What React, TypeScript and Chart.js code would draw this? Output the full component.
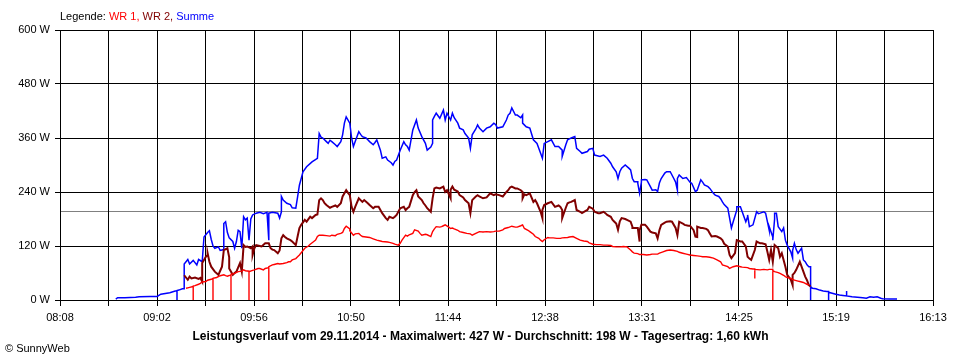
import React, { useEffect, useRef } from "react";
import { Chart, registerables } from "chart.js";

Chart.register(...registerables);

// X axis labels (every second grid line carries a label)
const xTickLabels = ["08:08", "09:02", "09:56", "10:50", "11:44", "12:38", "13:31", "14:25", "15:19", "16:13"];
const gridLinesPerLabel = 2;
const yMax = 600;
const yStep = 120;
const averageWatt = 198;

const legendPrefix = "Legende:";
const seriesNames = ["WR 1", "WR 2", "Summe"];
const seriesColors = ["#ff0000", "#800000", "#0000ff"];
const chartTitle = "Leistungsverlauf vom 29.11.2014 - Maximalwert: 427 W - Durchschnitt: 198 W - Tagesertrag: 1,60 kWh";
const copyright = "\u00a9 SunnyWeb";

// [time, watt]
const wr1Readings: [string, number][] = [
  ["09:18", 26], ["09:19", 27], ["09:20", 28], ["09:22", 30], ["09:22", 0], ["09:22", 31], ["09:23", 32], ["09:25", 35],
  ["09:26", 37], ["09:27", 40], ["09:29", 41], ["09:30", 44], ["09:32", 46], ["09:33", 48], ["09:33", 0], ["09:33", 48],
  ["09:35", 50], ["09:37", 54], ["09:39", 56], ["09:40", 54], ["09:41", 53], ["09:43", 56], ["09:43", 0], ["09:43", 57],
  ["09:45", 59], ["09:47", 63], ["09:49", 64], ["09:50", 67], ["09:51", 65], ["09:53", 64], ["09:53", 0], ["09:53", 63],
  ["09:55", 66], ["09:56", 67], ["09:58", 70], ["09:59", 70], ["10:01", 67], ["10:02", 70], ["10:04", 72], ["10:04", 0],
  ["10:04", 74], ["10:06", 78], ["10:07", 79], ["10:09", 81], ["10:10", 80], ["10:12", 81], ["10:14", 83], ["10:15", 85],
  ["10:16", 85], ["10:17", 89], ["10:19", 92], ["10:20", 96], ["10:21", 100], ["10:23", 110], ["10:24", 115], ["10:26", 120],
  ["10:27", 124], ["10:29", 130], ["10:30", 133], ["10:31", 141], ["10:32", 144], ["10:34", 144], ["10:36", 143], ["10:38", 142],
  ["10:39", 144], ["10:41", 143], ["10:42", 146], ["10:44", 148], ["10:45", 150], ["10:46", 159], ["10:47", 164], ["10:49", 158],
  ["10:49", 154], ["10:51", 144], ["10:52", 147], ["10:54", 148], ["10:55", 144], ["10:56", 141], ["10:58", 140], ["11:00", 139],
  ["11:02", 136], ["11:04", 133], ["11:06", 131], ["11:07", 130], ["11:10", 129], ["11:11", 128], ["11:13", 126], ["11:14", 124],
  ["11:16", 122], ["11:17", 126], ["11:18", 133], ["11:20", 144], ["11:21", 142], ["11:22", 145], ["11:24", 148], ["11:25", 156],
  ["11:27", 153], ["11:28", 148], ["11:29", 144], ["11:31", 146], ["11:32", 145], ["11:34", 141], ["11:35", 152], ["11:36", 158],
  ["11:37", 163], ["11:39", 162], ["11:40", 163], ["11:41", 165], ["11:42", 167], ["11:44", 162], ["11:45", 159], ["11:46", 160],
  ["11:47", 158], ["11:49", 155], ["11:50", 152], ["11:52", 150], ["11:54", 148], ["11:56", 147], ["11:57", 144], ["11:59", 148],
  ["12:01", 152], ["12:03", 151], ["12:05", 152], ["12:07", 151], ["12:09", 152], ["12:10", 153], ["12:12", 153], ["12:14", 156],
  ["12:15", 159], ["12:17", 161], ["12:19", 164], ["12:21", 162], ["12:22", 162], ["12:24", 165], ["12:25", 167], ["12:26", 159],
  ["12:28", 155], ["12:29", 152], ["12:31", 146], ["12:32", 141], ["12:34", 137], ["12:35", 133], ["12:36", 130], ["12:37", 134],
  ["12:39", 139], ["12:40", 138], ["12:42", 138], ["12:44", 137], ["12:46", 137], ["12:47", 138], ["12:50", 139], ["12:51", 140],
  ["12:53", 141], ["12:55", 137], ["12:57", 133], ["12:59", 131], ["13:01", 130], ["13:02", 127], ["13:04", 124], ["13:06", 123],
  ["13:08", 123], ["13:10", 122], ["13:12", 122], ["13:14", 121], ["13:15", 119], ["13:17", 118], ["13:19", 118], ["13:21", 119],
  ["13:23", 118], ["13:25", 111], ["13:26", 107], ["13:27", 104], ["13:29", 103], ["13:30", 101], ["13:32", 101], ["13:34", 100],
  ["13:36", 101], ["13:37", 102], ["13:40", 102], ["13:41", 104], ["13:43", 107], ["13:45", 110], ["13:47", 111], ["13:49", 110],
  ["13:51", 108], ["13:52", 106], ["13:54", 104], ["13:56", 102], ["13:58", 100], ["14:00", 99], ["14:02", 98], ["14:04", 97],
  ["14:05", 96], ["14:07", 96], ["14:09", 95], ["14:11", 93], ["14:13", 89], ["14:15", 85], ["14:16", 78], ["14:19", 74],
  ["14:20", 70], ["14:22", 74], ["14:24", 76], ["14:26", 74], ["14:27", 73], ["14:30", 72], ["14:31", 70], ["14:33", 69],
  ["14:34", 69], ["14:34", 48], ["14:34", 68], ["14:37", 67], ["14:39", 68], ["14:41", 67], ["14:42", 68], ["14:44", 68],
  ["14:44", 0], ["14:44", 65], ["14:45", 63], ["14:47", 61], ["14:48", 59], ["14:50", 55], ["14:51", 52], ["14:52", 50],
  ["14:54", 48], ["14:55", 46], ["14:56", 44], ["14:58", 42], ["14:59", 41], ["15:01", 39], ["15:02", 37], ["15:03", 35],
  ["15:04", 33],
];

const wr2Readings: [string, number][] = [
  ["09:17", 55], ["09:19", 45], ["09:20", 52], ["09:21", 48], ["09:23", 50], ["09:25", 47], ["09:26", 49], ["09:27", 41],
  ["09:27", 82], ["09:29", 96], ["09:30", 100], ["09:30", 104], ["09:31", 85], ["09:32", 74], ["09:34", 63], ["09:36", 56],
  ["09:37", 65], ["09:38", 74], ["09:39", 111], ["09:41", 115], ["09:42", 95], ["09:42", 70], ["09:44", 56], ["09:45", 60],
  ["09:46", 63], ["09:48", 82], ["09:49", 63], ["09:50", 122], ["09:51", 118], ["09:52", 119], ["09:54", 115], ["09:55", 119],
  ["09:55", 100], ["09:56", 115], ["09:57", 122], ["09:59", 120], ["10:00", 119], ["10:02", 126], ["10:04", 126], ["10:05", 115],
  ["10:06", 112], ["10:07", 111], ["10:09", 104], ["10:10", 110], ["10:11", 137], ["10:12", 144], ["10:13", 140], ["10:14", 137],
  ["10:16", 133], ["10:17", 130], ["10:19", 122], ["10:20", 141], ["10:21", 160], ["10:22", 167], ["10:24", 178], ["10:25", 174],
  ["10:27", 185], ["10:28", 182], ["10:30", 189], ["10:31", 190], ["10:32", 222], ["10:33", 226], ["10:34", 222], ["10:35", 215],
  ["10:36", 211], ["10:38", 205], ["10:39", 207], ["10:41", 210], ["10:42", 207], ["10:44", 215], ["10:45", 230], ["10:47", 244],
  ["10:48", 238], ["10:49", 233], ["10:50", 207], ["10:51", 196], ["10:52", 207], ["10:54", 226], ["10:55", 222], ["10:56", 218],
  ["10:57", 222], ["10:59", 215], ["11:00", 211], ["11:02", 204], ["11:03", 207], ["11:05", 207], ["11:06", 200], ["11:07", 193],
  ["11:09", 182], ["11:10", 178], ["11:11", 185], ["11:13", 182], ["11:14", 185], ["11:15", 189], ["11:17", 204], ["11:19", 207],
  ["11:20", 200], ["11:21", 204], ["11:22", 207], ["11:24", 233], ["11:25", 240], ["11:26", 244], ["11:27", 230], ["11:29", 222],
  ["11:30", 215], ["11:31", 210], ["11:32", 204], ["11:34", 196], ["11:35", 226], ["11:36", 248], ["11:37", 250], ["11:39", 248],
  ["11:41", 252], ["11:42", 240], ["11:43", 244], ["11:45", 226], ["11:45", 245], ["11:46", 252], ["11:47", 245], ["11:49", 241],
  ["11:50", 233], ["11:52", 228], ["11:53", 222], ["11:55", 215], ["11:56", 193], ["11:57", 222], ["11:59", 230], ["12:00", 233],
  ["12:01", 230], ["12:03", 226], ["12:05", 228], ["12:07", 237], ["12:09", 233], ["12:10", 235], ["12:12", 233], ["12:14", 230],
  ["12:16", 240], ["12:17", 244], ["12:18", 250], ["12:19", 252], ["12:21", 248], ["12:22", 248], ["12:24", 244], ["12:25", 240],
  ["12:25", 226], ["12:26", 235], ["12:27", 233], ["12:29", 237], ["12:31", 218], ["12:32", 222], ["12:33", 215], ["12:35", 196],
  ["12:36", 182], ["12:36", 200], ["12:37", 211], ["12:39", 215], ["12:41", 218], ["12:43", 207], ["12:45", 210], ["12:46", 207],
  ["12:47", 200], ["12:47", 182], ["12:49", 205], ["12:50", 215], ["12:51", 217], ["12:52", 218], ["12:54", 222], ["12:55", 200],
  ["12:57", 196], ["12:58", 193], ["13:00", 198], ["13:01", 200], ["13:02", 207], ["13:04", 203], ["13:05", 196], ["13:07", 193],
  ["13:08", 193], ["13:10", 196], ["13:11", 193], ["13:12", 189], ["13:14", 185], ["13:15", 178], ["13:16", 174], ["13:17", 170],
  ["13:18", 156], ["13:19", 175], ["13:20", 182], ["13:22", 180], ["13:23", 178], ["13:25", 174], ["13:26", 163], ["13:26", 160],
  ["13:28", 160], ["13:29", 160], ["13:30", 130], ["13:30", 155], ["13:31", 167], ["13:33", 167], ["13:34", 163], ["13:36", 152],
  ["13:37", 150], ["13:39", 148], ["13:40", 137], ["13:41", 155], ["13:42", 167], ["13:44", 172], ["13:45", 174], ["13:47", 175],
  ["13:48", 174], ["13:50", 160], ["13:51", 144], ["13:52", 174], ["13:54", 170], ["13:55", 167], ["13:57", 165], ["13:58", 165],
  ["14:00", 155], ["14:01", 141], ["14:02", 140], ["14:02", 163], ["14:04", 160], ["14:05", 160], ["14:07", 158], ["14:08", 155],
  ["14:09", 148], ["14:10", 141], ["14:12", 142], ["14:13", 141], ["14:15", 137], ["14:16", 133], ["14:17", 125], ["14:19", 119],
  ["14:20", 100], ["14:21", 93], ["14:23", 104], ["14:24", 133], ["14:26", 130], ["14:27", 130], ["14:29", 119], ["14:30", 96],
  ["14:31", 92], ["14:32", 89], ["14:34", 111], ["14:35", 130], ["14:37", 126], ["14:38", 126], ["14:40", 124], ["14:41", 107],
  ["14:42", 89], ["14:43", 111], ["14:44", 85], ["14:45", 122], ["14:47", 115], ["14:48", 96], ["14:49", 104], ["14:51", 74],
  ["14:52", 56], ["14:54", 45], ["14:55", 33], ["14:55", 56], ["14:56", 60], ["14:57", 67], ["14:59", 85], ["15:01", 63],
  ["15:02", 52], ["15:03", 44], ["15:04", 33], ["15:05", 30],
];

const sumReadings: [string, number][] = [
  ["08:39", 2], ["08:40", 5], ["08:44", 5], ["08:50", 6], ["08:52", 7], ["08:58", 8], ["09:02", 8], ["09:04", 13],
  ["09:09", 16], ["09:12", 20], ["09:13", 20], ["09:13", 0], ["09:13", 21], ["09:14", 22], ["09:16", 25], ["09:17", 25],
  ["09:17", 80], ["09:19", 90], ["09:20", 80], ["09:22", 88], ["09:24", 78], ["09:25", 90], ["09:27", 85], ["09:28", 140],
  ["09:30", 150], ["09:31", 154], ["09:32", 135], ["09:33", 120], ["09:34", 115], ["09:36", 118], ["09:37", 110], ["09:39", 112],
  ["09:39", 170], ["09:40", 174], ["09:41", 150], ["09:42", 138], ["09:44", 130], ["09:45", 115], ["09:46", 130], ["09:47", 155],
  ["09:48", 152], ["09:49", 115], ["09:50", 185], ["09:51", 178], ["09:52", 182], ["09:53", 133], ["09:54", 180], ["09:55", 189],
  ["09:57", 193], ["09:59", 195], ["10:01", 192], ["10:03", 195], ["10:04", 133], ["10:04", 193], ["10:06", 195], ["10:09", 193],
  ["10:10", 182], ["10:11", 196], ["10:11", 230], ["10:12", 222], ["10:14", 215], ["10:16", 212], ["10:17", 205], ["10:19", 204],
  ["10:20", 229], ["10:21", 255], ["10:23", 285], ["10:25", 296], ["10:28", 307], ["10:31", 315], ["10:32", 370], ["10:33", 362],
  ["10:34", 360], ["10:36", 352], ["10:37", 348], ["10:38", 355], ["10:39", 352], ["10:41", 345], ["10:42", 341], ["10:44", 352],
  ["10:45", 367], ["10:46", 393], ["10:47", 407], ["10:49", 393], ["10:50", 360], ["10:51", 341], ["10:52", 352], ["10:54", 374],
  ["10:55", 368], ["10:56", 363], ["10:58", 360], ["10:59", 356], ["11:00", 352], ["11:02", 345], ["11:03", 350], ["11:04", 356],
  ["11:06", 333], ["11:07", 315], ["11:09", 318], ["11:10", 311], ["11:12", 305], ["11:13", 300], ["11:14", 308], ["11:15", 311],
  ["11:17", 333], ["11:19", 352], ["11:20", 345], ["11:21", 341], ["11:22", 333], ["11:24", 378], ["11:26", 400], ["11:27", 382],
  ["11:29", 363], ["11:31", 348], ["11:32", 333], ["11:34", 340], ["11:35", 348], ["11:35", 400], ["11:36", 408], ["11:37", 415],
  ["11:39", 404], ["11:41", 422], ["11:42", 400], ["11:43", 415], ["11:45", 400], ["11:46", 415], ["11:47", 405], ["11:49", 393],
  ["11:50", 382], ["11:52", 378], ["11:53", 370], ["11:55", 360], ["11:56", 337], ["11:57", 367], ["11:59", 380], ["12:00", 389],
  ["12:01", 382], ["12:03", 374], ["12:05", 382], ["12:07", 385], ["12:09", 393], ["12:10", 390], ["12:11", 382], ["12:14", 385],
  ["12:16", 400], ["12:17", 411], ["12:18", 415], ["12:19", 427], ["12:21", 411], ["12:22", 411], ["12:24", 405], ["12:25", 411],
  ["12:25", 393], ["12:27", 385], ["12:29", 382], ["12:31", 356], ["12:33", 348], ["12:35", 326], ["12:36", 315], ["12:37", 348],
  ["12:39", 352], ["12:41", 356], ["12:43", 341], ["12:45", 341], ["12:47", 333], ["12:47", 319], ["12:49", 345], ["12:50", 356],
  ["12:51", 358], ["12:52", 360], ["12:54", 363], ["12:55", 337], ["12:57", 330], ["12:58", 326], ["13:01", 330], ["13:02", 335],
  ["13:04", 337], ["13:05", 322], ["13:08", 319], ["13:10", 322], ["13:12", 315], ["13:14", 304], ["13:15", 296], ["13:17", 285],
  ["13:18", 270], ["13:19", 285], ["13:20", 293], ["13:22", 300], ["13:24", 293], ["13:25", 289], ["13:26", 270], ["13:27", 263],
  ["13:29", 263], ["13:29", 259], ["13:30", 237], ["13:31", 262], ["13:31", 267], ["13:33", 268], ["13:34", 267], ["13:36", 252],
  ["13:37", 244], ["13:39", 245], ["13:40", 241], ["13:41", 260], ["13:42", 270], ["13:44", 282], ["13:45", 285], ["13:47", 285],
  ["13:49", 270], ["13:50", 262], ["13:51", 244], ["13:51", 270], ["13:52", 278], ["13:54", 270], ["13:56", 272], ["13:57", 267],
  ["13:58", 262], ["13:59", 259], ["14:01", 241], ["14:02", 244], ["14:04", 267], ["14:05", 262], ["14:06", 256], ["14:08", 252],
  ["14:09", 248], ["14:11", 237], ["14:12", 233], ["14:14", 230], ["14:15", 225], ["14:16", 218], ["14:17", 212], ["14:19", 204],
  ["14:20", 182], ["14:21", 160], ["14:22", 174], ["14:24", 200], ["14:24", 207], ["14:26", 207], ["14:27", 196], ["14:29", 174],
  ["14:30", 185], ["14:30", 189], ["14:31", 163], ["14:33", 167], ["14:35", 196], ["14:36", 192], ["14:37", 193], ["14:39", 196],
  ["14:40", 193], ["14:41", 174], ["14:42", 155], ["14:42", 163], ["14:44", 140], ["14:44", 133], ["14:45", 180], ["14:45", 193],
  ["14:46", 193], ["14:47", 163], ["14:49", 152], ["14:50", 160], ["14:51", 133], ["14:52", 122], ["14:54", 107], ["14:55", 93],
  ["14:55", 110], ["14:56", 126], ["14:57", 112], ["14:58", 104], ["15:00", 115], ["15:01", 89], ["15:02", 85], ["15:03", 78],
  ["15:04", 74], ["15:05", 74], ["15:05", 0], ["15:05", 30], ["15:06", 26], ["15:08", 25], ["15:10", 22], ["15:12", 20],
  ["15:14", 19], ["15:15", 19], ["15:15", 0], ["15:15", 17], ["15:17", 15], ["15:19", 13], ["15:21", 11], ["15:23", 10],
  ["15:25", 9], ["15:25", 20], ["15:25", 9], ["15:28", 7], ["15:31", 6], ["15:34", 5], ["15:36", 4], ["15:38", 7],
  ["15:40", 6], ["15:42", 7], ["15:44", 4], ["15:45", 3], ["15:49", 2], ["15:53", 2],
];

const toMinutes = (t: string) => {
  const [h, m] = t.split(":").map(Number);
  return h * 60 + m;
};

const FONT = '"Liberation Sans", Arial, sans-serif';

export default function App() {
  const canvasRef = useRef<HTMLCanvasElement | null>(null);

  useEffect(() => {
    if (!canvasRef.current) return;
    const xMin = toMinutes(xTickLabels[0]);
    const xMax = toMinutes(xTickLabels[xTickLabels.length - 1]);
    const gridCount = (xTickLabels.length - 1) * gridLinesPerLabel;

    const toPoints = (r: [string, number][]) => r.map(([t, v]) => ({ x: toMinutes(t), y: v }));

    const avgLine = {
      id: "avgLine",
      beforeDraw(chart: any) {
        const { ctx, chartArea, scales } = chart;
        const y = Math.round(scales.y.getPixelForValue(averageWatt)) + 0.5;
        ctx.save();
        ctx.strokeStyle = "#808080";
        ctx.lineWidth = 1;
        ctx.beginPath();
        ctx.moveTo(chartArea.left, y);
        ctx.lineTo(chartArea.right, y);
        ctx.stroke();
        ctx.restore();
      },
    };

    const chart = new Chart(canvasRef.current, {
      type: "line",
      data: {
        datasets: [
          { label: seriesNames[0], data: toPoints(wr1Readings), borderColor: seriesColors[0], borderWidth: 1.4 },
          { label: seriesNames[1], data: toPoints(wr2Readings), borderColor: seriesColors[1], borderWidth: 2 },
          { label: seriesNames[2], data: toPoints(sumReadings), borderColor: seriesColors[2], borderWidth: 1.5 },
        ],
      },
      options: {
        animation: false,
        responsive: false,
        devicePixelRatio: 1,
        elements: { point: { radius: 0 }, line: { tension: 0 } },
        layout: { padding: { top: 30, right: 27, left: 0, bottom: 0 } },
        plugins: { legend: { display: false }, tooltip: { enabled: false }, title: { display: false } },
        scales: {
          x: {
            type: "linear",
            min: xMin,
            max: xMax,
            afterBuildTicks: (scale: any) => {
              scale.ticks = Array.from({ length: gridCount + 1 }, (_, i) => ({
                value: xMin + (i * (xMax - xMin)) / gridCount,
              }));
            },
            afterFit: (scale: any) => {
              scale.height = 60;
            },
            grid: { color: "#000000", lineWidth: 1, tickLength: 6, drawTicks: true },
            border: { color: "#000000" },
            ticks: {
              autoSkip: false,
              maxRotation: 0,
              minRotation: 0,
              padding: 5,
              color: "#000000",
              font: { family: FONT, size: 11 },
              callback: (_v: any, i: number) => (i % gridLinesPerLabel === 0 ? xTickLabels[i / gridLinesPerLabel] : ""),
            },
          },
          y: {
            type: "linear",
            min: 0,
            max: yMax,
            afterFit: (scale: any) => {
              scale.width = 60;
            },
            grid: { color: "#000000", lineWidth: 1, tickLength: 5 },
            border: { color: "#000000" },
            ticks: {
              stepSize: yStep,
              padding: 5,
              color: "#000000",
              font: { family: FONT, size: 11 },
              callback: (v: any) => `${v} W`,
            },
          },
        },
      },
      plugins: [avgLine],
    });
    return () => chart.destroy();
  }, []);

  return (
    <div style={{ position: "fixed", left: 0, top: 0, width: 960, height: 360, background: "#ffffff", fontFamily: FONT }}>
      <canvas ref={canvasRef} width={960} height={360} style={{ position: "absolute", left: 0, top: 0 }} />
      <div style={{ position: "absolute", left: 60, top: 10, fontSize: 11, lineHeight: "13px", color: "#000", whiteSpace: "nowrap" }}>
        {legendPrefix} <span style={{ color: seriesColors[0] }}>{seriesNames[0]},</span>{" "}
        <span style={{ color: seriesColors[1] }}>{seriesNames[1]},</span>{" "}
        <span style={{ color: seriesColors[2] }}>{seriesNames[2]}</span>
      </div>
      <div style={{ position: "absolute", left: 0, width: 961, top: 329, textAlign: "center", fontSize: 12, fontWeight: "bold", lineHeight: "14px", color: "#000", whiteSpace: "nowrap" }}>
        {chartTitle}
      </div>
      <div style={{ position: "absolute", left: 5, top: 342, fontSize: 11, lineHeight: "13px", color: "#000", whiteSpace: "nowrap" }}>
        {copyright}
      </div>
    </div>
  );
}
